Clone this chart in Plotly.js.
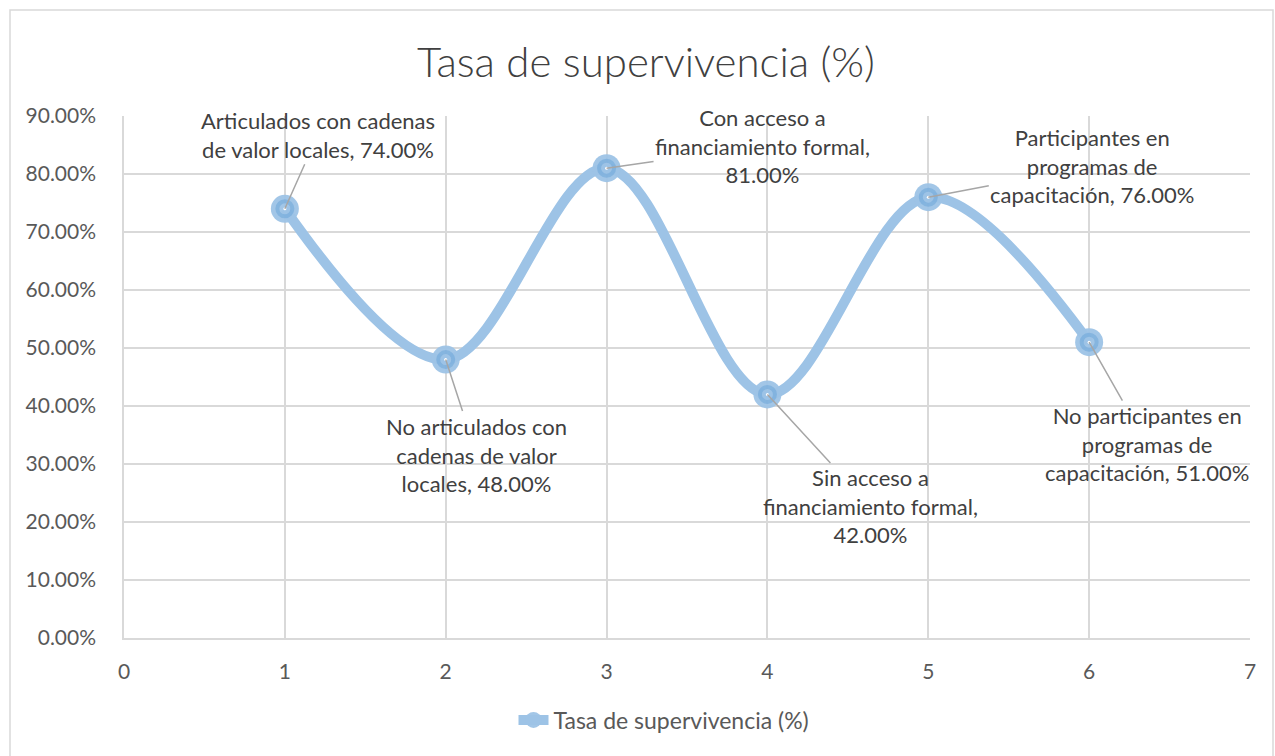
<!DOCTYPE html>
<html>
<head>
<meta charset="utf-8">
<script src="https://cdn.plot.ly/plotly-3.0.1.min.js"></script>
<style>
html,body{margin:0;padding:0;background:#fff;}
#chart{width:1275px;height:756px;}
</style>
</head>
<body>
<div id="chart"></div>
<script>
const seriesName = "Tasa de supervivencia (%)";
const xValues = [1, 2, 3, 4, 5, 6];
const survivalRate = [0.74, 0.48, 0.81, 0.42, 0.76, 0.51];
const categories = [
  "Articulados con cadenas<br>de valor locales",
  "No articulados con<br>cadenas de valor<br>locales",
  "Con acceso a<br>financiamiento formal",
  "Sin acceso a<br>financiamiento formal",
  "Participantes en<br>programas de<br>capacitación",
  "No participantes en<br>programas de<br>capacitación"
];
const valueSeparators = [" ", " ", "<br>", "<br>", " ", " "];
const labelOffsetX = [33, 31, 156, 103, 164, 58];
const labelOffsetY = [-74, 95, -22, 112, -31, 102];

const FONT = "Lato, 'Open Sans', sans-serif";
const lineColor = "#9dc3e6";

const main = {
  x: xValues, y: survivalRate, name: seriesName,
  type: "scatter", mode: "lines+markers",
  line: {color: lineColor, width: 10, shape: "spline", smoothing: 1},
  marker: {size: 28, color: "rgba(157,195,230,0.95)", line: {width: 0}},
  hoverinfo: "x+y"
};
const ring = {
  x: xValues, y: survivalRate, showlegend: false, hoverinfo: "skip",
  type: "scatter", mode: "markers",
  marker: {size: 15, symbol: "circle-open", color: "rgba(91,155,213,0.4)", line: {width: 4, color: "rgba(91,155,213,0.4)"}}
};
const dot = {
  x: xValues, y: survivalRate, showlegend: false, hoverinfo: "skip",
  type: "scatter", mode: "markers",
  marker: {size: 3, color: "#ffffff"}
};

const annotations = xValues.map((x, i) => ({
  x: x, y: survivalRate[i], xref: "x", yref: "y",
  text: categories[i] + "," + valueSeparators[i] + (survivalRate[i] * 100).toFixed(2) + "%",
  showarrow: true, arrowhead: 0, arrowwidth: 1.5, arrowcolor: "#a6a6a6",
  ax: labelOffsetX[i], ay: labelOffsetY[i],
  font: {family: FONT, size: 22, color: "#404040"},
  align: "center"
}));

const layout = {
  width: 1275, height: 756,
  margin: {l: 124, r: 25, t: 116, b: 118},
  paper_bgcolor: "#ffffff", plot_bgcolor: "#ffffff",
  title: {text: "Tasa de supervivencia (%)", font: {family: FONT, size: 42, color: "#404040", weight: 300},
          x: (646 - 124) / 1126, xref: "paper", xanchor: "center", y: 1 - 62/756, yanchor: "middle"},
  font: {family: FONT, color: "#595959"},
  xaxis: {range: [0, 7], dtick: 1, tick0: 0, showgrid: true, gridcolor: "#d9d9d9", gridwidth: 1.5,
          showline: true, linecolor: "#d9d9d9", linewidth: 1.5, zeroline: false, ticks: "",
          ticklabelstandoff: 14,
          tickfont: {family: FONT, size: 21, color: "#595959"}, fixedrange: true},
  yaxis: {range: [0, 0.9], dtick: 0.1, tick0: 0, tickformat: ".2%", showgrid: true, gridcolor: "#d9d9d9", gridwidth: 1.5,
          showline: true, linecolor: "#d9d9d9", linewidth: 1.5, zeroline: false, ticks: "",
          ticklabelstandoff: 22,
          tickfont: {family: FONT, size: 21, color: "#595959"}, fixedrange: true},
  showlegend: true,
  legend: {orientation: "h", x: (664 - 124) / 1126, xanchor: "center", y: (638 - 720) / 522, yanchor: "middle",
           font: {family: FONT, size: 23, color: "#595959"}, bgcolor: "rgba(0,0,0,0)"},
  annotations: annotations,
  shapes: [{type: "rect", xref: "paper", yref: "paper",
            x0: (10 - 124) / 1126, x1: (1273 - 124) / 1126,
            y0: (638 - 760) / 522, y1: (638 - 10) / 522,
            line: {color: "#d9d9d9", width: 1.5}, fillcolor: "rgba(0,0,0,0)", layer: "below"}]
};

Plotly.newPlot("chart", [main, ring, dot], layout, {displayModeBar: false, staticPlot: false});
</script>
</body>
</html>
